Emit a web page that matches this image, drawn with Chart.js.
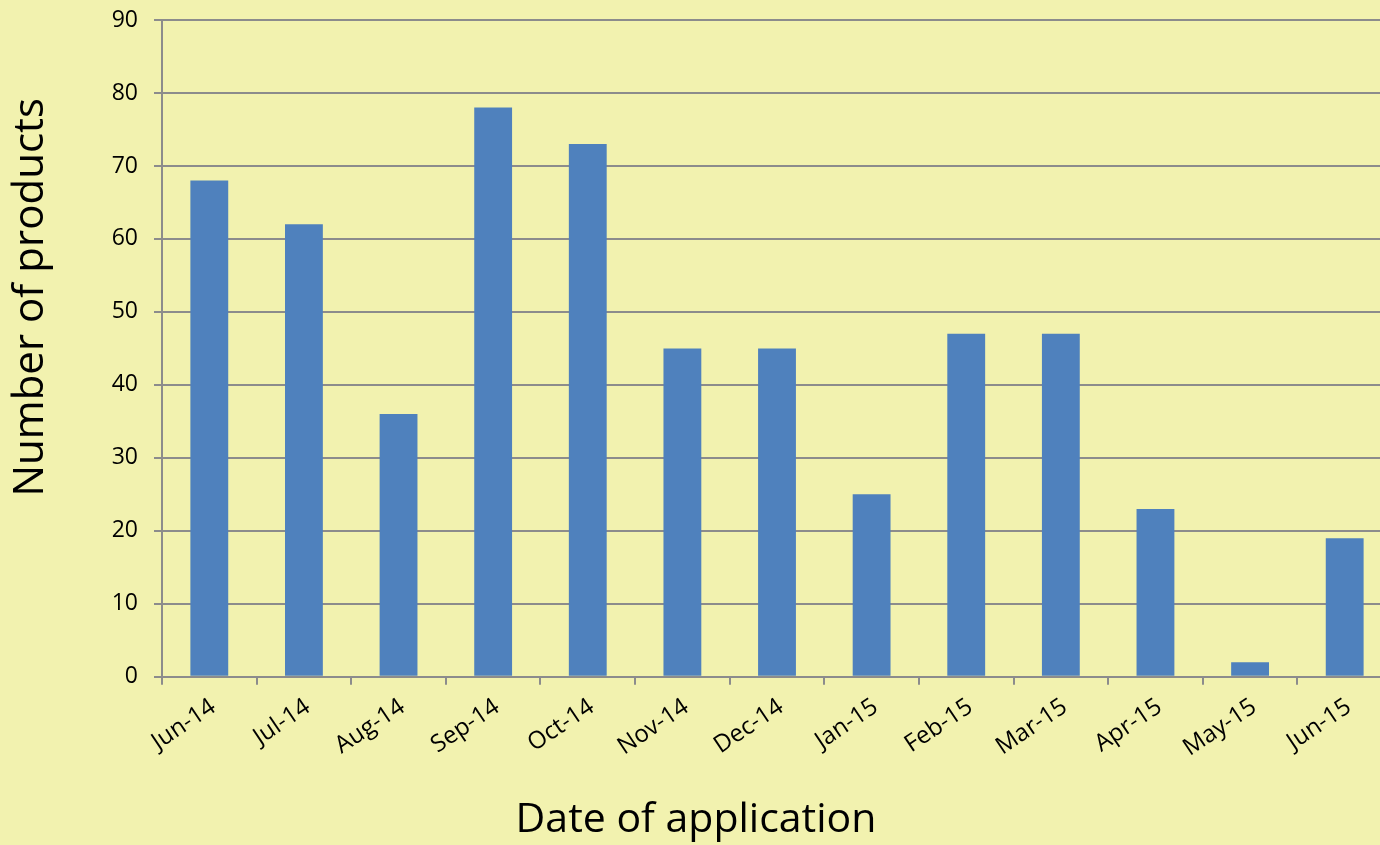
<!DOCTYPE html>
<html>
<head>
<meta charset="utf-8">
<script src="https://cdn.jsdelivr.net/npm/chart.js@4/dist/chart.umd.min.js"></script>
<style>
html,body{margin:0;padding:0;overflow:hidden;background:#F2F2AF;}
#wrap{position:absolute;left:0;top:0;width:1400px;height:845px;}
</style>
</head>
<body>
<div id="wrap"><canvas id="c" width="1400" height="845"></canvas></div>
<script>
const categories = ["Jun-14","Jul-14","Aug-14","Sep-14","Oct-14","Nov-14","Dec-14","Jan-15","Feb-15","Mar-15","Apr-15","May-15","Jun-15"];
const products = [68,62,36,78,73,45,45,25,47,47,23,2,19];
const yTicks = [0,10,20,30,40,50,60,70,80,90];
const xTitle = 'Date of application';
const yTitle = 'Number of products';

const FONT = "'Open Sans', Lato, sans-serif";
const grey = '#8C8C8C';

new Chart(document.getElementById('c'), {
  type: 'bar',
  data: {
    labels: categories,
    datasets: [{
      label: yTitle,
      data: products,
      backgroundColor: '#4F81BD',
      borderWidth: 0,
      categoryPercentage: 1,
      barPercentage: 0.4
    }]
  },
  options: {
    responsive: false,
    animation: false,
    devicePixelRatio: 1,
    layout: { padding: { top: 20, right: 8, left: 0, bottom: 0 } },
    plugins: {
      legend: { display: false },
      tooltip: { enabled: false },
      title: { display: true, position: 'bottom', text: xTitle, color: '#000', font: { family: FONT, size: 41, weight: 'normal' }, padding: { top: 0, bottom: 0 } }
    },
    scales: {
      x: {
        offset: true,
        grid: { display: true, drawOnChartArea: false, drawTicks: true, tickLength: 8, color: grey, lineWidth: 2, offset: true },
        border: { display: true, color: grey, width: 2 },
        ticks: { color: '#000', font: { family: FONT, size: 24 }, minRotation: 34, maxRotation: 34, padding: 8, labelOffset: 4, autoSkip: false },
        afterFit: (s) => { s.height = 119; }
      },
      y: {
        min: 0, max: 90,
        afterBuildTicks: (s) => { s.ticks = yTicks.map(v => ({ value: v })); },
        grid: { color: grey, lineWidth: 2, tickLength: 8, drawTicks: true },
        border: { display: true, color: grey, width: 2 },
        ticks: { color: '#000', font: { family: FONT, size: 23 }, padding: 16 },
        afterFit: (s) => { s.width = 162; s.paddingTop = 0; s.paddingBottom = 0; }
      }
    }
  },
  plugins: [{
    id: 'bg',
    beforeDraw(chart) {
      const ctx = chart.ctx;
      ctx.save();
      ctx.fillStyle = '#F2F2AF';
      ctx.fillRect(0, 0, chart.width, chart.height);
      ctx.restore();
    }
  }, {
    id: 'yTitle',
    afterDraw(chart) {
      const ctx = chart.ctx;
      const ys = chart.scales.y;
      ctx.save();
      ctx.translate(31, ys.getPixelForValue(52));
      ctx.rotate(-Math.PI / 2);
      ctx.fillStyle = '#000';
      ctx.font = "42px " + FONT;
      ctx.textAlign = 'center';
      ctx.textBaseline = 'middle';
      ctx.fillText(yTitle, 0, 0);
      ctx.restore();
    }
  }]
});
</script>
</body>
</html>
